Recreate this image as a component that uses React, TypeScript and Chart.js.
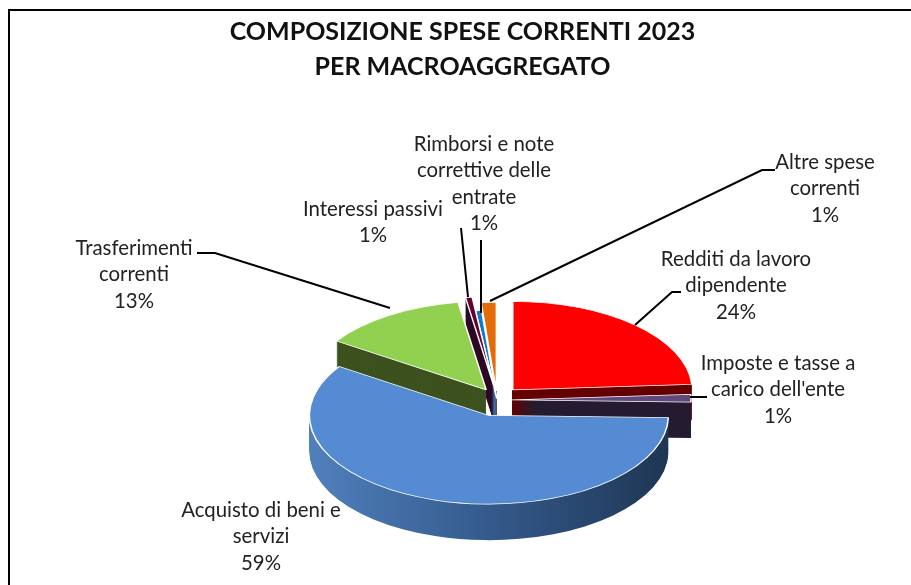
import React, { useEffect, useRef } from "react";
import { Chart, registerables } from "chart.js";

Chart.register(...registerables);

const categories = [
  "Redditi da lavoro dipendente",
  "Imposte e tasse a carico dell'ente",
  "Acquisto di beni e servizi",
  "Trasferimenti correnti",
  "Interessi passivi",
  "Rimborsi e note correttive delle entrate",
  "Altre spese correnti",
];
const values = [24, 1.4, 58.9, 13.2, 0.6, 0.55, 1.35];
const faceColors = ["#FF0000", "#604A7B", "#558BD2", "#92D050", "#660033", "#0F7AC8", "#E36C09"];
const wallColors = ["#660000", "#241C30", "#2E5080", "#3D521F", "#2D0A25", "#3A6A9A", "#7F3F05"];
const explode = [23, 14.5, 27, 20, 25, 2, 15];
const labelLines = [
  ["Redditi da lavoro", "dipendente"],
  ["Imposte e tasse a", "carico dell'ente"],
  ["Acquisto di beni e", "servizi"],
  ["Trasferimenti", "correnti"],
  ["Interessi passivi"],
  ["Rimborsi e note", "correttive delle", "entrate"],
  ["Altre spese", "correnti"],
];
const titleLines = ["COMPOSIZIONE SPESE CORRENTI 2023", "PER MACROAGGREGATO"];

const CX = 497, CY = 400, SQUASH = 0.494, DEPTH = 36, EXPLODE_Y = 0.6, LINE = 26.6;
const labelPos: [number, number][] = [[736, 259], [778, 363], [261, 510], [134, 248], [373, 209], [484, 144], [825, 162]];
const leaders: [number, number][][] = [
  [[635, 325], [672, 292], [681, 292]],
  [[690, 397], [707, 397]],
  [],
  [[390, 308], [215, 253], [197, 253]],
  [[468, 297], [461, 228]],
  [[481, 313], [481, 240]],
  [[490, 301], [762, 170], [775, 170]],
];
const drawOrder = [6, 5, 4, 3, 0, 1, 2];

const pie3d = {
  id: "pie3d",
  beforeDraw(chart: any) {
    const c = chart.ctx;
    c.save();
    c.fillStyle = "#fff";
    c.fillRect(0, 0, chart.width, chart.height);
    c.strokeStyle = "#000";
    c.lineWidth = 2;
    c.strokeRect(9, 10, chart.width + 20, chart.height + 20);
    c.restore();
  },
  beforeDatasetsDraw(chart: any) {
    const c = chart.ctx;
    const arcs = chart.getDatasetMeta(0).data;
    for (const i of drawOrder) {
      const arc = arcs[i];
      const o = arc.options;
      const mid = (arc.startAngle + arc.endAngle) / 2;
      const ox = CX + Math.cos(mid) * explode[i];
      const oy = CY + Math.sin(mid) * explode[i] * EXPLODE_Y;
      let wall: any = wallColors[i];
      if (i === 2) {
        const g = c.createLinearGradient(arc.x - arc.outerRadius, 0, arc.x + arc.outerRadius, 0);
        g.addColorStop(0, "#5080BC");
        g.addColorStop(0.5, "#345A8C");
        g.addColorStop(1, "#1F3654");
        wall = g;
      }
      arc.options = { ...o, backgroundColor: wall, borderWidth: 0 };
      for (let d = DEPTH; d >= 1; d--) {
        c.save();
        c.translate(ox, oy + d);
        c.scale(1, SQUASH);
        c.translate(-arc.x, -arc.y);
        arc.draw(c);
        c.restore();
      }
      arc.options = o;
      c.save();
      c.translate(ox, oy);
      c.scale(1, SQUASH);
      c.translate(-arc.x, -arc.y);
      arc.draw(c);
      c.restore();
    }
    c.save();
    c.strokeStyle = "#000";
    c.lineWidth = 2;
    leaders.forEach((pts) => {
      if (!pts.length) return;
      c.beginPath();
      pts.forEach(([x, y], j) => (j ? c.lineTo(x, y) : c.moveTo(x, y)));
      c.stroke();
    });
    c.fillStyle = "#222";
    c.font = "20.4px Lato";
    c.textAlign = "center";
    c.textBaseline = "middle";
    const total = values.reduce((a, b) => a + b, 0);
    labelLines.forEach((lines, i) => {
      const all = [...lines, `${Math.round((values[i] / total) * 100)}%`];
      all.forEach((t, j) => c.fillText(t, labelPos[i][0], labelPos[i][1] + j * LINE));
    });
    c.restore();
    return false;
  },
};

export default function App() {
  const ref = useRef<HTMLCanvasElement | null>(null);
  useEffect(() => {
    document.body.style.margin = "0";
    const chart = new Chart(ref.current!, {
      type: "pie",
      data: {
        labels: categories,
        datasets: [
          {
            data: values,
            backgroundColor: faceColors,
            borderColor: "#ffffff",
            borderWidth: 1.5,
            radius: 179.5,
          } as any,
        ],
      },
      options: {
        responsive: false,
        animation: false,
        layout: { padding: { left: 14 } },
        plugins: {
          legend: { display: false },
          tooltip: { enabled: false },
          title: {
            display: true,
            text: titleLines,
            color: "#111",
            font: { family: "Lato", size: 25, weight: "bold", lineHeight: 1.4 },
            padding: { top: 14, bottom: 10 },
          },
        },
      },
      plugins: [pie3d as any],
    });
    return () => chart.destroy();
  }, []);
  return <canvas ref={ref} width={911} height={585} style={{ display: "block" }} />;
}
